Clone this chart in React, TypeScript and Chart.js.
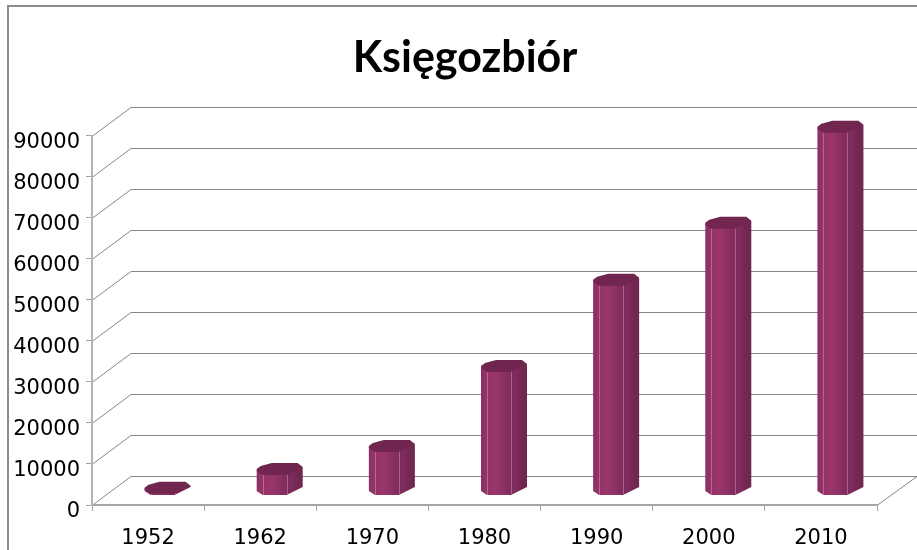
import React, { useEffect, useRef } from "react";
import { Chart, registerables } from "chart.js";

Chart.register(...registerables);

const categories = ["1952", "1962", "1970", "1980", "1990", "2000", "2010"];
const holdings = [400, 5000, 10600, 30100, 51100, 65000, 88400];
const yTicks = [0, 10000, 20000, 30000, 40000, 50000, 60000, 70000, 80000, 90000];
const chartTitle = "Księgozbiór";

const DEPTH_X = 39;
const DEPTH_Y = 29;
const TITLE_SHIFT = 26.5;

const wallsPlugin = {
  id: "walls",
  afterLayout(chart: any) {
    const t = chart.titleBlock;
    if (t) {
      t.left += TITLE_SHIFT;
      t.right += TITLE_SHIFT;
    }
  },
  beforeDraw(chart: any) {
    const { ctx, width, height } = chart;
    const y = chart.scales.y;
    const x = chart.scales.x;
    ctx.save();
    // outer frame
    ctx.strokeStyle = "#8c8c8c";
    ctx.lineWidth = 2;
    ctx.beginPath();
    ctx.moveTo(8, height);
    ctx.lineTo(8, 6);
    ctx.lineTo(width, 6);
    ctx.stroke();
    // gridlines running along the side wall and back wall
    ctx.strokeStyle = "#868686";
    ctx.lineWidth = 1;
    for (const v of yTicks) {
      const py = Math.round(y.getPixelForValue(v)) + 0.5;
      ctx.beginPath();
      ctx.moveTo(x.left, py);
      ctx.lineTo(x.left + DEPTH_X, py - DEPTH_Y);
      ctx.lineTo(width, py - DEPTH_Y);
      ctx.stroke();
    }
    // floor right edge
    const by = Math.round(y.getPixelForValue(0)) + 0.5;
    ctx.beginPath();
    ctx.moveTo(x.right, by);
    ctx.lineTo(x.right + DEPTH_X + 1, by - DEPTH_Y);
    ctx.stroke();
    ctx.restore();
  },
};

const prismPlugin = {
  id: "prisms",
  beforeDatasetDraw(chart: any, args: any) {
    const { ctx } = chart;
    const meta = args.meta;
    for (const el of meta.data) {
      const cx = el.x + 19.5;
      const topY = el.y - 14.5;
      const baseY = el.base - 14.5;
      const lowerOutline = [
        [-23, 1],
        [-17, 5],
        [7, 5],
        [15, 1],
        [23, -3],
      ];
      const grad = ctx.createLinearGradient(cx - 23, 0, cx + 23, 0);
      const stop = (dx: number) => (dx + 23) / 46;
      grad.addColorStop(stop(-23), "#8b3063");
      grad.addColorStop(stop(-17), "#94336a");
      grad.addColorStop(stop(-8), "#9a3569");
      grad.addColorStop(stop(7), "#7f2c5d");
      grad.addColorStop(stop(14.9), "#7b2b5b");
      grad.addColorStop(stop(15), "#752853");
      grad.addColorStop(stop(23), "#6e264f");

      // body
      ctx.save();
      ctx.beginPath();
      ctx.moveTo(cx - 23, topY);
      ctx.lineTo(cx + 23, topY - 3);
      ctx.lineTo(cx + 23, baseY - 3);
      for (let i = lowerOutline.length - 2; i >= 0; i--) {
        ctx.lineTo(cx + lowerOutline[i][0], baseY + lowerOutline[i][1]);
      }
      ctx.closePath();
      ctx.fillStyle = grad;
      ctx.fill();
      ctx.clip();
      // facet highlights
      ctx.strokeStyle = "rgba(214,140,185,0.55)";
      ctx.lineWidth = 1;
      for (const dx of [-17, 7]) {
        ctx.beginPath();
        ctx.moveTo(Math.round(cx + dx) + 0.5, topY - 5);
        ctx.lineTo(Math.round(cx + dx) + 0.5, baseY + 6);
        ctx.stroke();
      }
      ctx.restore();

      // cap
      ctx.beginPath();
      ctx.moveTo(cx - 23, topY + 1);
      ctx.lineTo(cx - 17, topY + 5);
      ctx.lineTo(cx + 7, topY + 5);
      ctx.lineTo(cx + 15, topY + 1);
      ctx.lineTo(cx + 23, topY - 3);
      ctx.lineTo(cx + 18, topY - 7);
      ctx.lineTo(cx - 8, topY - 7);
      ctx.lineTo(cx - 19, topY - 4);
      ctx.lineTo(cx - 23, topY - 1);
      ctx.closePath();
      ctx.fillStyle = "#70264f";
      ctx.fill();
    }
    return false;
  },
};

export default function App() {
  const ref = useRef<HTMLCanvasElement>(null);
  useEffect(() => {
    document.body.style.margin = "0";
    const chart = new Chart(ref.current!, {
      type: "bar",
      data: {
        labels: categories,
        datasets: [
          { label: chartTitle, data: holdings, backgroundColor: "#8e2f63", barPercentage: 0.6, categoryPercentage: 1 },
        ],
      },
      options: {
        responsive: false,
        animation: false,
        layout: { padding: { left: 0, right: 40, top: 0, bottom: 0 } },
        plugins: {
          legend: { display: false },
          tooltip: { enabled: false },
          title: {
            display: true,
            text: chartTitle,
            color: "#000000",
            font: { family: "Lato", size: 43, weight: "bold", lineHeight: 1.2 },
            padding: { top: 32, bottom: 52 },
          },
        },
        scales: {
          x: {
            grid: { drawOnChartArea: false, offset: true, tickLength: 6, tickColor: "#a6a6a6", lineWidth: 1 },
            border: { color: "#a6a6a6", width: 2 },
            ticks: { color: "#000000", font: { family: "DejaVu Sans", size: 21 }, padding: 15, maxRotation: 0 },
            afterFit(s: any) {
              s.height = 45;
            },
          },
          y: {
            min: 0,
            max: 90000,
            grid: { drawOnChartArea: false, tickLength: 6, tickColor: "#a6a6a6" },
            border: { color: "#b4b4b4", width: 2 },
            ticks: {
              color: "#000000",
              stepSize: 10000,
              font: { family: "DejaVu Sans", size: 21 },
              padding: 6,
              labelOffset: 7,
              callback: (v: any) => String(v),
            },
            afterFit(s: any) {
              s.width = 92;
            },
          },
        },
      } as any,
      plugins: [wallsPlugin, prismPlugin],
    });
    return () => chart.destroy();
  }, []);
  return <canvas ref={ref} width={917} height={550} style={{ display: "block" }} />;
}
